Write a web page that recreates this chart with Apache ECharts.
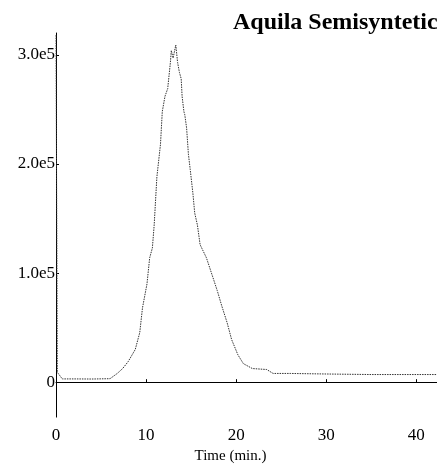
<!DOCTYPE html>
<html>
<head>
<meta charset="utf-8">
<script src="https://cdn.jsdelivr.net/npm/echarts@6/dist/echarts.min.js"></script>
<style>html,body{margin:0;padding:0;background:#fff}#c{width:437px;height:469px}</style>
</head>
<body>
<div id="c"></div>
<script>
var titleText = "Aquila Semisyntetic";
var xName = "Time (min.)";
var xTicks = [0, 10, 20, 30, 40];
var yTicks = [0, 100000, 200000, 300000];
var yTickLabels = ["0", "1.0e5", "2.0e5", "3.0e5"];
var timeMin = [0, 0.15, 0.7, 2, 4, 6.0, 6.8, 7.4, 8.0, 8.8, 9.3, 9.6, 10.1, 10.4, 10.7, 10.9, 11.2, 11.6, 11.8, 12.1, 12.4, 12.7, 12.8, 13.0, 13.3, 13.5, 13.7, 13.9, 14.0, 14.2, 14.3, 14.5, 14.7, 14.9, 15.2, 15.4, 15.7, 16.0, 16.7, 17.3, 17.9, 18.4, 19.0, 19.5, 20.2, 20.8, 21.8, 23.4, 24.1, 26, 30, 35, 42.3];
var signal = [318000, 9000, 3000, 3000, 2900, 3200, 8000, 12500, 18700, 30000, 45500, 68000, 90000, 114000, 123000, 144000, 188000, 218000, 248000, 262000, 269000, 293000, 304000, 297000, 309000, 293000, 284000, 278000, 262000, 248000, 245000, 233000, 209000, 195000, 173000, 155000, 144000, 126000, 114000, 99000, 84000, 70000, 54500, 39000, 25000, 17000, 12500, 11600, 8000, 8000, 7500, 7000, 7000];

var pts = timeMin.map(function (t, i) { return [t, signal[i]]; });
var serif = "'Liberation Serif', 'DejaVu Serif', serif";
var chart = echarts.init(document.getElementById('c'), null, {renderer: 'canvas'});
chart.setOption({
  animation: false,
  backgroundColor: '#fff',
  title: {
    text: titleText, left: 233, top: 11, padding: 0,
    textStyle: {fontFamily: serif, fontWeight: 'bold', fontSize: 24, color: '#000'}
  },
  grid: {left: 56, right: 0, top: 33, bottom: 42, containLabel: false},
  xAxis: {
    type: 'value', min: 0, max: 42.3,
    name: xName, nameLocation: 'middle', nameGap: 23,
    nameTextStyle: {fontFamily: serif, fontSize: 15, color: '#000', padding: [0, 32, 0, 0]},
    axisLine: {show: true, lineStyle: {color: '#000', width: 1}},
    axisTick: {show: true, inside: true, length: 3, customValues: xTicks, lineStyle: {color: '#000'}},
    axisLabel: {customValues: xTicks, margin: 10, fontFamily: serif, fontSize: 17, color: '#000'},
    splitLine: {show: false}
  },
  yAxis: {
    type: 'value', min: -32000, max: 320000,
    axisLine: {show: true, lineStyle: {color: '#000', width: 1}},
    axisTick: {show: true, inside: true, length: 3, customValues: yTicks, lineStyle: {color: '#000'}},
    axisLabel: {
      customValues: yTicks, margin: 1, fontFamily: serif, fontSize: 17, color: '#000',
      formatter: function (v) { var i = yTicks.indexOf(v); return i >= 0 ? yTickLabels[i] : ''; }
    },
    splitLine: {show: false}
  },
  series: [{
    type: 'line', data: pts, showSymbol: false, smooth: false,
    lineStyle: {color: '#333', width: 1, type: [1.5, 1]}
  }]
});
</script>
</body>
</html>
